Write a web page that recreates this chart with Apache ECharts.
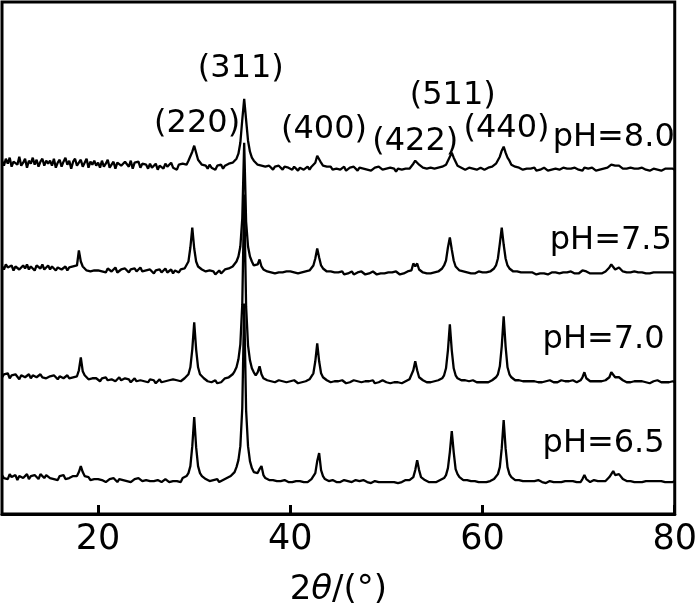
<!DOCTYPE html>
<html><head><meta charset="utf-8">
<script src="https://cdn.jsdelivr.net/npm/echarts@6/dist/echarts.min.js"></script>
<style>html,body{margin:0;padding:0;background:#fff}#c{width:700px;height:612px}</style>
</head><body><div id="c"></div>
<script>
// 2θ measurement grid (degrees): first angle and step of the scan
const twoThetaStart = 10;
const twoThetaStep = 0.2;

// x-axis tick labels
const xTickValues = [20, 40, 60, 80];

// sample labels and vertical stacking offsets (a.u.)
const sampleLabels = ['pH=8.0', 'pH=7.5', 'pH=7.0', 'pH=6.5'];
const sampleOffsets = [345, 241, 132, 32];

// intensities (a.u.), one value per grid step from 10° to 80°
const pH80 = [
9,4,11,6,12,3,8,10,5,13,4,7,11,2,9,6,12,5,10,3,8,11,4,9,6,
9,4,11,2,7,10,3,8,12,5,9,1,8,11,4,6,10,3,7,11,2,8,5,9,4,
7,2,9,3,6,10,2,5,8,1,7,9,4,2,8,6,3,9,1,7,5,8,2,6,4,
5,1,6,2,3,6,0,4,5,1,6,3,1,7,2,4,0,5,3,6,6,5,9,11,18,
24,17,10,8,5,6,4,1,5,2,3,0,4,2,5,1,4,3,6,5,7,8,11,16,27,
50,71,50,29,18,12,9,8,5,6,4,4,3,1,4,2,0,3,1,4,2,0,3,1,2,
2,0,3,1,-1,2,3,0,1,3,0,3,4,7,14,12,7,4,2,3,1,3,0,2,1,
2,0,1,3,-1,1,2,0,3,1,-1,2,0,1,3,0,2,-1,1,2,0,3,1,0,2,
1,-1,2,0,1,-2,1,2,0,-1,1,2,1,3,6,9,10,5,3,2,2,1,0,2,1,
1,-1,2,2,3,3,5,7,13,17,12,8,4,3,2,2,0,1,2,0,1,2,0,1,2,
1,0,2,2,2,3,4,6,8,13,19,23,17,12,9,5,4,3,2,2,1,0,2,1,0,
1,0,2,-1,1,0,1,2,0,-1,1,0,2,1,-1,0,1,2,0,1,-1,1,0,2,1,
0,1,-1,2,0,1,0,2,1,-1,1,0,2,1,2,2,3,5,6,4,3,4,2,1,2,
1,0,2,0,1,-1,1,0,2,1,0,1,-1,0,1,2,0,1,-1,0,1,0,1,0,1,
0];
const pH75 = [
7,4,9,6,5,8,3,7,9,4,6,8,5,9,4,7,6,3,8,7,5,9,4,6,8,
4,7,5,3,6,8,4,5,7,3,6,4,7,5,8,23,12,7,5,3,5,2,4,3,5,
3,5,2,4,1,5,3,2,4,6,1,3,4,2,5,3,1,4,3,5,2,4,6,2,3,
3,1,4,2,0,3,2,4,1,3,5,1,2,4,0,3,2,1,4,4,5,7,12,26,46,
25,12,7,5,4,3,2,0,3,1,2,-1,1,3,0,2,4,4,5,5,7,8,12,17,27,
55,131,52,27,17,12,8,7,9,14,7,4,3,2,3,1,2,0,2,1,3,1,0,2,1,
2,0,1,3,0,2,1,0,2,2,3,5,8,15,25,16,8,5,3,2,1,2,0,1,2,
1,0,2,-1,1,0,1,2,-1,0,1,0,2,1,-1,1,0,1,2,0,-1,1,0,1,0,
0,1,-1,1,0,2,0,-1,1,0,1,2,1,3,10,7,10,4,2,1,2,0,1,0,1,
1,0,2,3,5,8,13,26,36,24,13,7,5,3,2,2,0,1,2,0,1,0,1,2,0,
1,0,1,2,2,3,5,8,15,30,46,29,15,8,5,3,2,1,2,0,1,0,1,0,1,
0,1,0,-1,1,0,2,0,1,-1,0,1,0,1,2,0,-1,1,0,1,0,2,1,0,1,
0,1,3,4,2,1,0,1,0,1,0,1,0,1,2,3,6,9,7,4,5,6,4,2,1,
1,0,1,0,2,0,1,0,1,-1,0,1,0,2,1,0,1,0,1,2,1,0,1,0,1,
0];
const pH70 = [
5,8,6,9,4,7,5,8,6,3,7,9,5,6,8,4,7,9,5,6,8,5,7,4,6,
6,4,7,5,3,6,8,4,5,7,4,6,5,7,6,12,25,11,7,5,3,5,4,2,4,
3,1,4,2,5,2,0,3,4,1,3,5,2,1,4,2,3,0,2,4,1,3,2,4,1,
2,0,3,1,2,-1,1,3,0,2,1,-1,2,0,3,1,2,0,1,3,4,6,8,15,33,
60,33,15,8,6,4,3,1,2,0,1,2,-1,1,0,2,4,4,5,7,8,11,15,23,38,
78,188,76,37,22,14,10,7,10,16,8,4,3,2,3,1,2,0,1,2,0,1,2,0,1,
1,0,2,1,-1,1,0,2,1,2,3,5,9,21,39,21,9,5,3,2,1,0,2,1,0,
1,0,2,0,-1,1,0,1,2,0,1,-1,0,2,1,0,1,0,2,-1,1,0,1,2,0,
0,1,-1,1,0,2,0,1,-1,0,1,2,3,5,12,21,12,5,3,2,1,0,1,0,1,
1,0,2,3,4,7,14,32,58,32,14,7,4,3,2,1,2,0,1,0,2,1,0,1,0,
1,0,1,0,2,2,3,5,8,16,36,66,36,15,8,5,3,2,1,2,0,1,0,1,0,
1,0,1,2,0,1,0,-1,1,0,2,1,0,1,0,1,2,0,1,0,1,0,2,1,0,
1,2,5,10,4,2,1,0,1,0,1,0,1,2,2,3,5,10,8,5,4,5,3,2,1,
0,1,0,2,1,0,1,0,1,2,0,1,-1,0,1,0,2,1,0,1,0,1,0,2,1,
0];
const pH65 = [
7,4,6,3,8,5,4,7,2,6,7,4,5,8,3,6,4,7,5,3,8,6,4,7,5,
4,6,3,5,2,6,4,7,3,5,4,2,6,5,6,10,16,10,6,4,5,2,4,3,2,
3,1,2,4,0,2,3,1,4,2,0,3,1,2,4,1,3,0,2,3,1,4,2,1,3,
2,0,1,3,1,-1,2,1,0,2,3,1,0,2,1,-1,1,2,0,4,4,6,9,16,36,
65,35,16,9,6,4,3,2,1,0,2,1,3,0,1,2,4,4,5,6,8,10,15,22,36,
74,179,72,36,21,14,10,8,9,13,16,7,4,3,2,1,2,0,1,2,1,0,2,1,0,
1,0,2,1,0,1,2,0,1,0,2,3,5,9,21,29,12,6,3,2,1,0,2,1,0,
1,0,1,2,0,1,-1,0,1,2,0,1,0,2,1,0,1,-1,0,1,2,0,1,0,1,
0,1,0,2,0,1,-1,1,0,1,2,0,2,3,5,12,22,12,5,3,2,1,0,1,0,
1,0,1,2,3,4,7,14,30,51,30,13,8,5,3,2,1,2,0,1,0,1,2,0,1,
0,1,0,2,1,3,3,5,8,15,34,62,34,15,8,5,3,2,1,2,0,1,0,1,0,
1,0,1,0,2,1,0,1,-1,0,1,2,0,1,0,1,0,2,1,0,1,0,1,2,0,
1,0,3,7,3,1,0,1,2,0,1,0,1,2,1,3,5,8,11,7,6,8,7,3,2,
1,0,1,2,0,1,0,1,0,2,1,0,1,3,1,0,1,0,1,2,0,1,0,1,0,
1];
const intensities = [pH80, pH75, pH70, pH65];

// peak (hkl) annotation texts and where they sit, in (2θ, a.u.)
const hklLabels = ['(311)', '(220)', '(400)', '(422)', '(511)', '(440)'];
const hklAnchor2Theta = [34.85, 30.3, 43.5, 53.0, 56.9, 62.5];
const hklAnchorLevel = [446, 391, 385, 373, 419, 386];
// sample label anchors
const sampleAnchor2Theta = [73.65, 73.35, 72.6, 72.6];
const sampleAnchorLevel = [377, 274, 175, 70];

const FONT = 'DejaVu Sans';

const lineSeries = intensities.map((arr, k) => ({
  type: 'line',
  name: sampleLabels[k],
  data: arr.map((v, i) => [twoThetaStart + twoThetaStep * i, sampleOffsets[k] + v]),
  showSymbol: false,
  symbol: 'none',
  silent: true,
  lineStyle: { color: '#000', width: 2.3, opacity: 1 },
  z: 2
}));

const textData = [];
hklLabels.forEach((t, i) => textData.push({ name: t, value: [hklAnchor2Theta[i], hklAnchorLevel[i]] }));
sampleLabels.forEach((t, i) => textData.push({ name: t, value: [sampleAnchor2Theta[i], sampleAnchorLevel[i]] }));

const option = {
  animation: false,
  backgroundColor: '#fff',
  grid: { left: 2, top: 2, width: 679, height: 513, show: true, borderColor: '#000', borderWidth: 3, backgroundColor: 'transparent' },
  xAxis: {
    type: 'value', min: 10, max: 80,
    axisLine: { show: true, lineStyle: { color: '#000', width: 3 } },
    axisTick: { show: true, inside: true, length: 9, lineStyle: { color: '#000', width: 3 }, customValues: xTickValues },
    axisLabel: { customValues: xTickValues, color: '#000', fontFamily: FONT, fontSize: 35, margin: 8 },
    splitLine: { show: false },
    name: '2{i|θ}/(°)', nameLocation: 'middle', nameGap: 59,
    nameTextStyle: { color: '#000', fontFamily: FONT, fontSize: 34,
      rich: { i: { fontStyle: 'italic', fontFamily: FONT, fontSize: 34, color: '#000' } } }
  },
  yAxis: { type: 'value', min: 0, max: 513, show: false },
  series: lineSeries.concat([{
    type: 'scatter',
    data: textData,
    symbolSize: 0,
    silent: true,
    z: 5,
    itemStyle: { opacity: 1 },
    label: { show: true, position: 'inside', formatter: '{b}', color: '#000', opacity: 1,
      textBorderWidth: 0, fontFamily: FONT, fontSize: 32 }
  }])
};

const chart = echarts.init(document.getElementById('c'), null, { renderer: 'canvas' });
chart.setOption(option);
intensities.forEach((a, k) => { if (a.length !== 351) console.error('length mismatch', sampleLabels[k], a.length); });
</script></body></html>
